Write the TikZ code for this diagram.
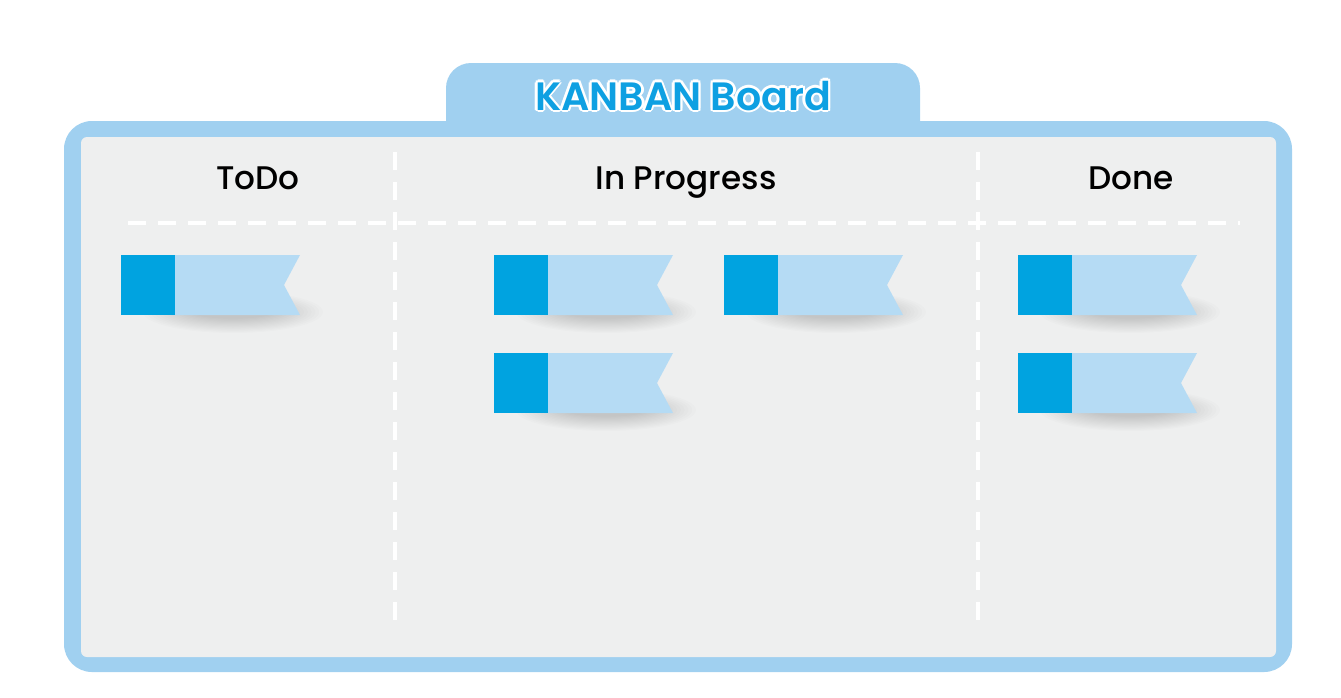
\documentclass[tikz,border=0pt]{standalone}
\usepackage{fontspec}
\setmainfont{Poppins}
\newfontfamily\headfont{Poppins Medium}
\newfontfamily\titlefont{Poppins SemiBold}
\usetikzlibrary{positioning}

\definecolor{framecol}{RGB}{160,208,240}
\definecolor{panelcol}{RGB}{238,239,239}
\definecolor{carddark}{RGB}{0,163,224}
\definecolor{cardlight}{RGB}{181,219,244}
\definecolor{titleblue}{RGB}{14,160,226}

\tikzset{
  colhead/.style={font=\headfont\fontsize{18.6}{22}\selectfont, text=black, anchor=base, inner sep=0pt},
  boardtitle/.style={font=\titlefont\fontsize{22.5}{27}\selectfont, anchor=base, inner sep=0pt},
  divider/.style={draw=white, line width=2.2pt, dash pattern=on 0.36cm off 0.24cm},
}

\begin{document}
\begin{tikzpicture}[x=0.02cm, y=-0.02cm]
    \useasboundingbox[fill=white] (0,0) rectangle (1341,697);
    % frame and title tab
    \fill[framecol, rounded corners=0.5cm] (446,63) rectangle (920,180);
    \fill[framecol, rounded corners=0.56cm] (64,121) rectangle (1292,672);
    \fill[panelcol, rounded corners=0.12cm] (81,137) rectangle (1276,657);
    % title with white outline
    \foreach \a in {0,45,...,315}
      \node[boardtitle, text=white, xshift={1.5pt*cos(\a)}, yshift={1.5pt*sin(\a)}] at (683,110) {KANBAN Board};
    \node[boardtitle, text=titleblue] (title) at (683,110) {KANBAN Board};
    % column heads
    \node[colhead] (todo) at (258,189) {ToDo};
    \node[colhead] (inprog) at (686,189) {In Progress};
    \node[colhead] (done) at (1131,189) {Done};
    % card shadows
    \foreach \x/\y in {121/255, 494/255, 724/255, 494/353, 1018/255, 1018/353}
      \foreach \k in {0,...,13}
        \fill[black, opacity=0.011] (\x+112,\y+57) ellipse[x radius={(1.8-0.075*\k)*1cm}, y radius={(0.42-0.022*\k)*1cm}];
    % dashed dividers
    \draw[divider] (128,223) -- (1240,223);
    \draw[divider] (395,152) -- (395,625);
    \draw[divider] (978,152) -- (978,625);
    % cards
    \foreach \x/\y in {121/255, 494/255, 724/255, 494/353, 1018/255, 1018/353} {
      \fill[cardlight] (\x+50,\y) -- (\x+179,\y) -- (\x+163,\y+30) -- (\x+179,\y+60) -- (\x+50,\y+60) -- cycle;
      \fill[carddark] (\x,\y) rectangle (\x+54,\y+60);
    }
  \end{tikzpicture}
\end{document}
